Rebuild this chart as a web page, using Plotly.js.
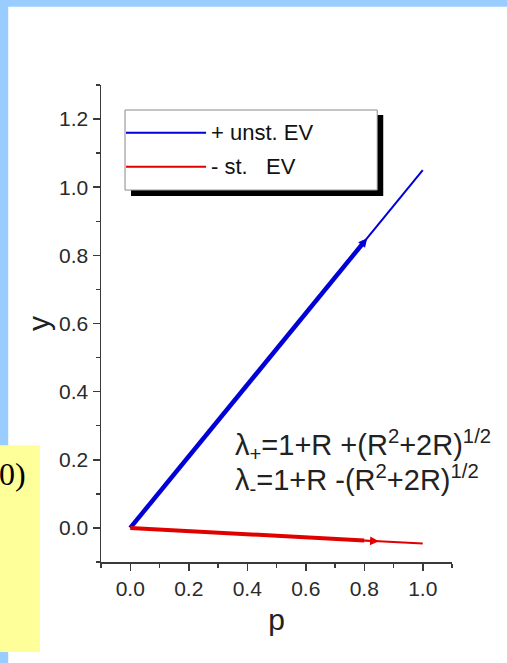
<!DOCTYPE html>
<html>
<head>
<meta charset="utf-8">
<script src="https://cdn.plot.ly/plotly-3.0.1.min.js"></script>
<style>
html,body{margin:0;padding:0;background:#fff;}
#chart{width:507px;height:663px;}
</style>
</head>
<body>
<div id="chart"></div>
<script>
// ---- data ----
var pValues = [0, 0.8, 1.0];              // p at origin, arrow position, end
var yUnstable = [0, 0.84, 1.05];          // "+ unst. EV" direction
var yStable = [0, -0.037, -0.046];        // "- st. EV" direction
var seriesNames = ['+ unst. EV', '-\u00a0st.\u00a0\u00a0\u00a0EV'];
var xTickVals = [0, 0.2, 0.4, 0.6, 0.8, 1.0];
var yTickVals = [0, 0.2, 0.4, 0.6, 0.8, 1.0, 1.2];
var arrowTipP = [0.81, 0.85];             // arrowhead tips for + / -
var formulaLines = [
  '\u03bb<sub>+</sub>=1+R +(R<sup>2</sup>+2R)<sup>1/2</sup>',
  '\u03bb<sub>-</sub>=1+R -(R<sup>2</sup>+2R)<sup>1/2</sup>'
];

// ---- geometry helpers (pixel -> paper) ----
var W = 507, H = 663;
var L = 101, R = 451.7, T = 85, B = 561.7;
function px(x){ return (x - L) / (R - L); }
function py(y){ return (B - y) / (B - T); }

var BLUE = 'rgb(0,0,215)';
var RED = 'rgb(225,0,0)';
var FONT = 'Liberation Sans, Arial, sans-serif';

function lineAt(xs, ys, p){
  var i = (p <= xs[1]) ? 0 : 1;
  var t = (p - xs[i]) / (xs[i+1] - xs[i]);
  return ys[i] + t * (ys[i+1] - ys[i]);
}

var traces = [
  {x: pValues.slice(0,2), y: yUnstable.slice(0,2), mode:'lines', line:{color:BLUE, width:4.5}, name:seriesNames[0], showlegend:false},
  {x: pValues.slice(1), y: yUnstable.slice(1), mode:'lines', line:{color:BLUE, width:2}, showlegend:false},
  {x: pValues.slice(0,2), y: yStable.slice(0,2), mode:'lines', line:{color:RED, width:4}, name:seriesNames[1], showlegend:false},
  {x: pValues.slice(1), y: yStable.slice(1), mode:'lines', line:{color:RED, width:2}, showlegend:false}
];

var shapes = [
  // page frame
  {type:'rect', xref:'paper', yref:'paper', x0:px(0), x1:px(W), y0:py(0), y1:py(H), fillcolor:'#99ccff', line:{width:0}, layer:'below'},
  {type:'rect', xref:'paper', yref:'paper', x0:px(8.3), x1:px(W+2), y0:py(6.7), y1:py(H+2), fillcolor:'#ffffff', line:{width:0}, layer:'below'},
  // yellow side box
  {type:'rect', xref:'paper', yref:'paper', x0:px(-2), x1:px(40), y0:py(445), y1:py(651.7), fillcolor:'#ffff99', line:{width:0}, layer:'below'},
  // legend shadow + box
  {type:'rect', xref:'paper', yref:'paper', x0:px(131), x1:px(383), y0:py(115), y1:py(196), fillcolor:'#000000', line:{width:0}},
  {type:'rect', xref:'paper', yref:'paper', x0:px(125), x1:px(377), y0:py(110), y1:py(190), fillcolor:'#ffffff', line:{color:'#8a8a8a', width:1}},
  {type:'line', xref:'paper', yref:'paper', x0:px(126), x1:px(206), y0:py(132.7), y1:py(132.7), line:{color:BLUE, width:2}},
  {type:'line', xref:'paper', yref:'paper', x0:px(126), x1:px(206), y0:py(166.7), y1:py(166.7), line:{color:RED, width:2}}
];

var annotations = [
  {xref:'paper', yref:'paper', x:px(209), y:py(132.7), xanchor:'left', yanchor:'middle', text:seriesNames[0], showarrow:false, font:{family:FONT, size:22, color:'#111'}},
  {xref:'paper', yref:'paper', x:px(209), y:py(166.7), xanchor:'left', yanchor:'middle', text:seriesNames[1], showarrow:false, font:{family:FONT, size:22, color:'#111'}},
  {xref:'paper', yref:'paper', x:px(233), y:py(445), xanchor:'left', yanchor:'middle', text:formulaLines[0], showarrow:false, font:{family:FONT, size:29, color:'#222'}},
  {xref:'paper', yref:'paper', x:px(233), y:py(480), xanchor:'left', yanchor:'middle', text:formulaLines[1], showarrow:false, font:{family:FONT, size:29, color:'#222'}},
  {xref:'paper', yref:'paper', x:px(28), y:py(474), xanchor:'right', yanchor:'middle', text:'0)', showarrow:false, font:{family:'Liberation Serif, Times New Roman, serif', size:32, color:'#000'}},
  // arrowheads
  {x:arrowTipP[0], y:lineAt(pValues, yUnstable, arrowTipP[0]), ax:arrowTipP[0]-0.04, ay:lineAt(pValues, yUnstable, arrowTipP[0]-0.04), xref:'x', yref:'y', axref:'x', ayref:'y', showarrow:true, arrowhead:2, arrowsize:1.1, arrowwidth:1.6, arrowcolor:BLUE, text:''},
  {x:arrowTipP[1], y:lineAt(pValues, yStable, arrowTipP[1]), ax:arrowTipP[1]-0.06, ay:lineAt(pValues, yStable, arrowTipP[1]-0.06), xref:'x', yref:'y', axref:'x', ayref:'y', showarrow:true, arrowhead:2, arrowsize:1.1, arrowwidth:1.6, arrowcolor:RED, text:''}
];

function makeAxis(extra){
  var a = {
    showgrid:false, zeroline:false, showline:true, linecolor:'#3a3a3a', linewidth:1.5,
    ticks:'outside', ticklen:7, tickwidth:1.5, tickcolor:'#3a3a3a',
    tickformat:'.1f', tickfont:{family:FONT, size:21, color:'#2a2a2a'},
    minor:{dtick:0.1, tick0:0, ticks:'outside', ticklen:4, tickwidth:1.5, tickcolor:'#3a3a3a', showgrid:false}
  };
  for (var k in extra) a[k] = extra[k];
  return a;
}

var layout = {
  width:W, height:H,
  font:{family:FONT, size:21, color:'#2a2a2a'},
  margin:{l:L, r:W-R, t:T, b:H-B, pad:0},
  paper_bgcolor:'#ffffff', plot_bgcolor:'rgba(0,0,0,0)',
  showlegend:false,
  xaxis: makeAxis({range:[-0.1,1.1], tickmode:'array', tickvals:xTickVals,
    title:{text:'p', font:{family:FONT, size:30, color:'#222'}, standoff:10}}),
  yaxis: makeAxis({range:[-0.1,1.3], tickmode:'array', tickvals:yTickVals,
    title:{text:'y', font:{family:FONT, size:30, color:'#222'}, standoff:0}}),
  shapes:shapes,
  annotations:annotations
};

Plotly.newPlot('chart', traces, layout, {displayModeBar:false, staticPlot:true});
</script>
</body>
</html>
